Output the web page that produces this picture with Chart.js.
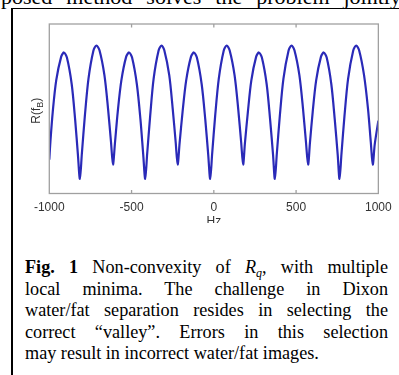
<!DOCTYPE html>
<html>
<head>
<meta charset="utf-8">
<script src="https://cdn.jsdelivr.net/npm/chart.js@4.4.0/dist/chart.umd.min.js"></script>
<style>
  html, body { margin: 0; padding: 0; background: #fff; }
  body { width: 399px; height: 375px; overflow: hidden; position: relative; }
  .above { position: absolute; left: 1px; top: -14px; font: 22px "Liberation Serif", "Times New Roman", serif; line-height: 22px; white-space: nowrap; word-spacing: 8.5px; color: #000; }
  .frame { position: absolute; left: 11px; top: 8px; width: 420px; height: 420px; border-left: 2px solid #000; border-top: 1.5px solid #000; }
  .plot { position: absolute; left: 0; top: 0; width: 399px; height: 223px; overflow: hidden; }
  .caption { position: absolute; left: 25px; top: 257px; width: 363px; font: 18.2px "Liberation Serif", "Times New Roman", serif; line-height: 21.6px; color: #000; }
  .caption div { text-align: justify; text-align-last: justify; white-space: nowrap; }
  .caption div.last { text-align-last: left; }
  .caption sub { font-size: 12px; line-height: 0; vertical-align: -4px; font-style: italic; }
</style>
</head>
<body>
<div class="above">posed method solves the problem jointly</div>
<div class="frame"></div>
<div class="plot"><canvas id="graph" width="399" height="240"></canvas></div>
<div class="caption">
  <div><b>Fig. 1</b> Non-convexity of <i>R</i><sub>q</sub>, with multiple</div>
  <div>local minima. The challenge in Dixon</div>
  <div>water/fat separation resides in selecting the</div>
  <div>correct “valley”. Errors in this selection</div>
  <div class="last">may result in incorrect water/fat images.</div>
</div>
<script>
// Frequency offsets (Hz).
const hz = [
  -1000, -993, -979, -958, -928, -911, -893, -864, -843, -826, -814,
  -802, -784, -762, -732, -714, -695, -665, -643, -625, -613,
  -601, -584, -562, -533, -515, -497, -468, -446, -429, -417,
  -405, -387, -366, -336, -318, -301, -271, -250, -232, -220,
  -208, -190, -168, -139, -121, -103, -74, -52, -34, -22,
  -10, 8, 30, 60, 78, 96, 126, 148, 166, 178,
  189, 207, 228, 257, 274, 292, 321, 342, 360, 371,
  383, 401, 423, 454, 472, 490, 520, 542, 560, 573,
  584, 601, 622, 651, 668, 686, 714, 735, 753, 764,
  776, 794, 816, 847, 865, 883, 913, 937, 954, 966,
  978, 1000
];

// R(f_B), relative units (0 = bottom of axes, 1 = top).
const rValues = [
  0.200, 0.310, 0.482, 0.667, 0.806, 0.832, 0.802, 0.646, 0.437, 0.228, 0.086,
  0.236, 0.456, 0.676, 0.842, 0.873, 0.845, 0.698, 0.501, 0.304, 0.171,
  0.297, 0.482, 0.667, 0.806, 0.832, 0.802, 0.646, 0.437, 0.228, 0.086,
  0.236, 0.456, 0.676, 0.842, 0.873, 0.845, 0.698, 0.501, 0.304, 0.171,
  0.297, 0.482, 0.667, 0.806, 0.832, 0.802, 0.646, 0.437, 0.228, 0.086,
  0.236, 0.456, 0.676, 0.842, 0.873, 0.845, 0.698, 0.501, 0.304, 0.171,
  0.297, 0.482, 0.667, 0.806, 0.832, 0.802, 0.646, 0.437, 0.228, 0.086,
  0.236, 0.456, 0.676, 0.842, 0.873, 0.845, 0.698, 0.501, 0.304, 0.171,
  0.297, 0.482, 0.667, 0.806, 0.832, 0.802, 0.646, 0.437, 0.228, 0.086,
  0.236, 0.456, 0.676, 0.842, 0.873, 0.845, 0.698, 0.501, 0.304, 0.171,
  0.290, 0.430
];

const xTicks = [-1000, -500, 0, 500, 1000];
const xMin = -1000, xMax = 1000;
const yMin = 0, yMax = 1;

const axisFont = { family: '"Liberation Sans", Arial, sans-serif', size: 12 };

// Draws the grey axes box, the inward tick marks and the y label (with subscript).
const axesBox = {
  id: 'axesBox',
  afterDatasetsDraw(chart) {
    const ctx = chart.ctx;
    const a = chart.chartArea;
    const x = chart.scales.x;
    ctx.save();
    ctx.strokeStyle = '#a0a0a0';
    ctx.lineWidth = 1.3;
    ctx.strokeRect(a.left, a.top, a.right - a.left, a.bottom - a.top);
    x.ticks.forEach(t => {
      if (t.value <= xMin || t.value >= xMax) return;
      const px = x.getPixelForValue(t.value);
      ctx.beginPath();
      ctx.moveTo(px, a.top);
      ctx.lineTo(px, a.top + 3.5);
      ctx.moveTo(px, a.bottom);
      ctx.lineTo(px, a.bottom - 3.5);
      ctx.stroke();
    });

    // y label "R(f_B)", rotated.
    ctx.fillStyle = '#333';
    ctx.textBaseline = 'alphabetic';
    ctx.translate(a.left - 9, (a.top + a.bottom) / 2 + 2);
    ctx.rotate(-Math.PI / 2);
    const big = '12px "Liberation Sans", Arial, sans-serif';
    const small = '9px "Liberation Sans", Arial, sans-serif';
    ctx.font = big;
    const w1 = ctx.measureText('R(f').width;
    const w3 = ctx.measureText(')').width;
    ctx.font = small;
    const w2 = ctx.measureText('B').width;
    let cx = -(w1 + w2 + w3) / 2;
    ctx.font = big;
    ctx.fillText('R(f', cx, 0);
    cx += w1;
    ctx.font = small;
    ctx.fillText('B', cx, 3);
    cx += w2;
    ctx.font = big;
    ctx.fillText(')', cx, 0);
    ctx.restore();
  }
};

const points = hz.map((f, i) => ({ x: f, y: rValues[i] }));

new Chart(document.getElementById('graph').getContext('2d'), {
  type: 'line',
  data: {
    datasets: [{
      data: points,
      borderColor: '#2a2ab8',
      borderWidth: 2.2,
      pointRadius: 0,
      tension: 0.3,
      fill: false
    }]
  },
  options: {
    responsive: false,
    animation: false,
    devicePixelRatio: 1,
    layout: { padding: { left: 49.3, right: 19, top: 24, bottom: 6.5 } },
    plugins: { legend: { display: false }, tooltip: { enabled: false } },
    scales: {
      x: {
        type: 'linear',
        min: xMin,
        max: xMax,
        afterBuildTicks: scale => { scale.ticks = xTicks.map(v => ({ value: v })); },
        afterFit: scale => { scale.height = 40; },
        ticks: {
          font: axisFont,
          color: '#333',
          padding: 7.3,
          maxRotation: 0,
          autoSkip: false,
          callback: v => String(v)
        },
        grid: { display: false, drawTicks: false },
        border: { display: false },
        title: {
          display: true,
          text: 'Hz',
          font: axisFont,
          color: '#333',
          padding: { top: 0, bottom: 4.5 }
        }
      },
      y: {
        type: 'linear',
        min: yMin,
        max: yMax,
        display: false
      }
    }
  },
  plugins: [axesBox]
});
</script>
</body>
</html>
